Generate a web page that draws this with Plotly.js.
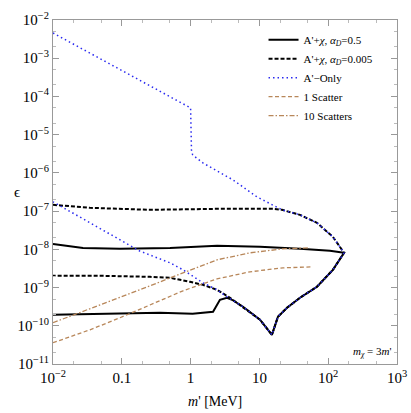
<!DOCTYPE html>
<html lang="en">
<head>
    <meta charset="UTF-8">
    <title>Dark photon epsilon vs m'</title>
    <script src="https://cdn.plot.ly/plotly-3.0.1.min.js"></script>
    <style>
        body { margin: 0; background: #fff; }
        #chart { width: 411px; height: 413px; }
    </style>
</head>
<body>
    <div id="chart"></div>
    <script>
        // A'+chi, alpha_D = 0.5 (solid): upper branch -> tip -> cusp -> lower branch
        const solidM   = [0.01, 0.0273, 0.0942, 0.502, 2.42, 10.2, 38.9, 106, 170,
                          117, 68.7, 38.9, 25.2, 18.6, 15.2,
                          10.2, 5.78, 4.0, 3.38, 2.67, 2.12, 1.07, 0.359, 0.01];
        const solidEps = [1.39e-8, 1.09e-8, 1.03e-8, 1.09e-8, 1.24e-8, 1.16e-8, 1.03e-8, 9.14e-9, 8.1e-9,
                          2.91e-9, 1.05e-9, 5.4e-10, 2.96e-10, 1.72e-10, 5.8e-11,
                          1.44e-10, 3.14e-10, 4.79e-10, 5.4e-10, 4.79e-10, 2.32e-10, 2.06e-10, 2.19e-10, 1.94e-10];

        // A'+chi, alpha_D = 0.005 (dashed)
        const dashM   = [0.01, 0.0345, 0.257, 2.67, 15.8, 21.3, 38.9, 68.7, 117, 170,
                         117, 68.7, 38.9, 25.2, 18.6, 15.2,
                         10.2, 5.78, 3.74, 2.42, 1.51, 0.98, 0.502, 0.257, 0.0482, 0.01];
        const dashEps = [1.46e-7, 1.22e-7, 1.08e-7, 1.15e-7, 1.15e-7, 1.08e-7, 7.98e-8, 4.93e-8, 2.12e-8, 8.1e-9,
                         2.91e-9, 1.05e-9, 5.4e-10, 2.96e-10, 1.72e-10, 5.8e-11,
                         1.44e-10, 3.14e-10, 5.4e-10, 8.73e-10, 1.18e-9, 1.41e-9, 1.80e-9, 1.91e-9, 2.03e-9, 2.03e-9];

        // A'-Only (dotted)
        const onlyM   = [0.01, 1.0, 1.03, 1.07, 1.51, 4.13, 9.2, 15.8, 21.3, 38.9, 68.7, 117, 170,
                         117, 68.7, 38.9, 25.2, 18.6, 15.2,
                         10.2, 5.78, 3.38, 2.42, 1.51, 0.776, 0.502, 0.183, 0.01];
        const onlyEps = [4.57e-3, 5.0e-5, 4.0e-6, 2.96e-6, 1.82e-6, 6.56e-7, 2.36e-7, 1.46e-7, 1.08e-7, 7.98e-8, 4.93e-8, 2.12e-8, 8.1e-9,
                         2.91e-9, 1.05e-9, 5.4e-10, 2.96e-10, 1.72e-10, 5.8e-11,
                         1.44e-10, 3.14e-10, 5.73e-10, 8.73e-10, 1.33e-9, 2.91e-9, 4.44e-9, 9.0e-9, 1.75e-7];

        // 1 Scatter (brown dashed)
        const oneM   = [0.01, 0.0345, 0.0942, 0.257, 0.776, 2.42, 7.29, 22.0, 58.2];
        const oneEps = [3.6e-11, 7.85e-11, 1.62e-10, 3.54e-10, 8.22e-10, 1.69e-9, 2.58e-9, 3.28e-9, 3.48e-9];

        // 10 Scatters (brown dash-dot)
        const tenM   = [0.01, 0.0345, 0.0942, 0.257, 0.776, 2.42, 7.29, 22.0, 54.3];
        const tenEps = [1.2e-10, 2.78e-10, 5.4e-10, 1.11e-9, 2.43e-9, 5.31e-9, 8.1e-9, 1.03e-8, 1.09e-8];

        const xTickVals = [0.01, 0.1, 1, 10, 100, 1000];
        const xTickText = ['10<sup>−2</sup>', '0.1', '1', '10', '10<sup>2</sup>', '10<sup>3</sup>'];
        const yTickVals = [1e-2, 1e-3, 1e-4, 1e-5, 1e-6, 1e-7, 1e-8, 1e-9, 1e-10, 1e-11];
        const yTickText = yTickVals.map(v => '10<sup>−' + Math.round(-Math.log10(v)) + '</sup>');

        const serif = 'Liberation Serif, Times New Roman, serif';
        const brown = '#b8875a';

        const data = [
            {x: solidM, y: solidEps, mode: 'lines', type: 'scatter',
             name: "A'+<i>χ</i>, <i>α<sub>D</sub></i>=0.5",
             line: {color: '#000', width: 2}},
            {x: dashM, y: dashEps, mode: 'lines', type: 'scatter',
             name: "A'+<i>χ</i>, <i>α<sub>D</sub></i>=0.005",
             line: {color: '#000', width: 2, dash: '4px,2px'}},
            {x: onlyM, y: onlyEps, mode: 'lines', type: 'scatter',
             name: "A'−Only",
             line: {color: '#2a2af0', width: 1.5, dash: '1.5px,3px'}},
            {x: oneM, y: oneEps, mode: 'lines', type: 'scatter',
             name: '1 Scatter',
             line: {color: brown, width: 1.3, dash: '4px,2.5px'}},
            {x: tenM, y: tenEps, mode: 'lines', type: 'scatter',
             name: '10 Scatters',
             line: {color: brown, width: 1.3, dash: '5px,2px,1.5px,2px'}}
        ];

        const axisCommon = {
            type: 'log',
            showgrid: false,
            zeroline: false,
            showline: true,
            linecolor: '#999',
            linewidth: 1,
            mirror: 'allticks',
            ticks: 'inside',
            ticklen: 6,
            tickcolor: '#999',
            tickfont: {family: serif, size: 15, color: '#000'},
            tickmode: 'array',
            minor: {ticks: 'inside', ticklen: 3, tickcolor: '#bbb', showgrid: false}
        };

        const layout = {
            width: 411,
            height: 413,
            margin: {l: 53, r: 14, t: 20, b: 49},
            paper_bgcolor: '#fff',
            plot_bgcolor: '#fff',
            font: {family: serif, color: '#000'},
            xaxis: Object.assign({}, axisCommon, {
                range: [-2, 3],
                tickvals: xTickVals,
                ticktext: xTickText
            }),
            yaxis: Object.assign({}, axisCommon, {
                range: [-11, -2],
                tickvals: yTickVals,
                ticktext: yTickText
            }),
            showlegend: true,
            legend: {
                x: 0.612, y: 0.985, xanchor: 'left', yanchor: 'top',
                bgcolor: 'rgba(0,0,0,0)',
                font: {family: serif, size: 11},
                itemwidth: 30,
                tracegroupgap: 0
            },
            annotations: [
                {text: 'ϵ', xref: 'paper', yref: 'paper', x: -0.119, y: 0.5,
                 showarrow: false, font: {family: serif, size: 15}},
                {text: "<i>m</i>' [MeV]", xref: 'paper', yref: 'paper', x: 0.47, y: -0.11,
                 xanchor: 'center', yanchor: 'middle',
                 showarrow: false, font: {family: serif, size: 14}},
                {text: "<i>m<sub>χ</sub></i> = 3<i>m</i>'", xref: 'paper', yref: 'paper',
                 x: 0.99, y: 0.035, xanchor: 'right', yanchor: 'middle',
                 showarrow: false, font: {family: serif, size: 11}}
            ]
        };

        Plotly.newPlot('chart', data, layout, {staticPlot: true, displayModeBar: false});
    </script>
</body>
</html>
